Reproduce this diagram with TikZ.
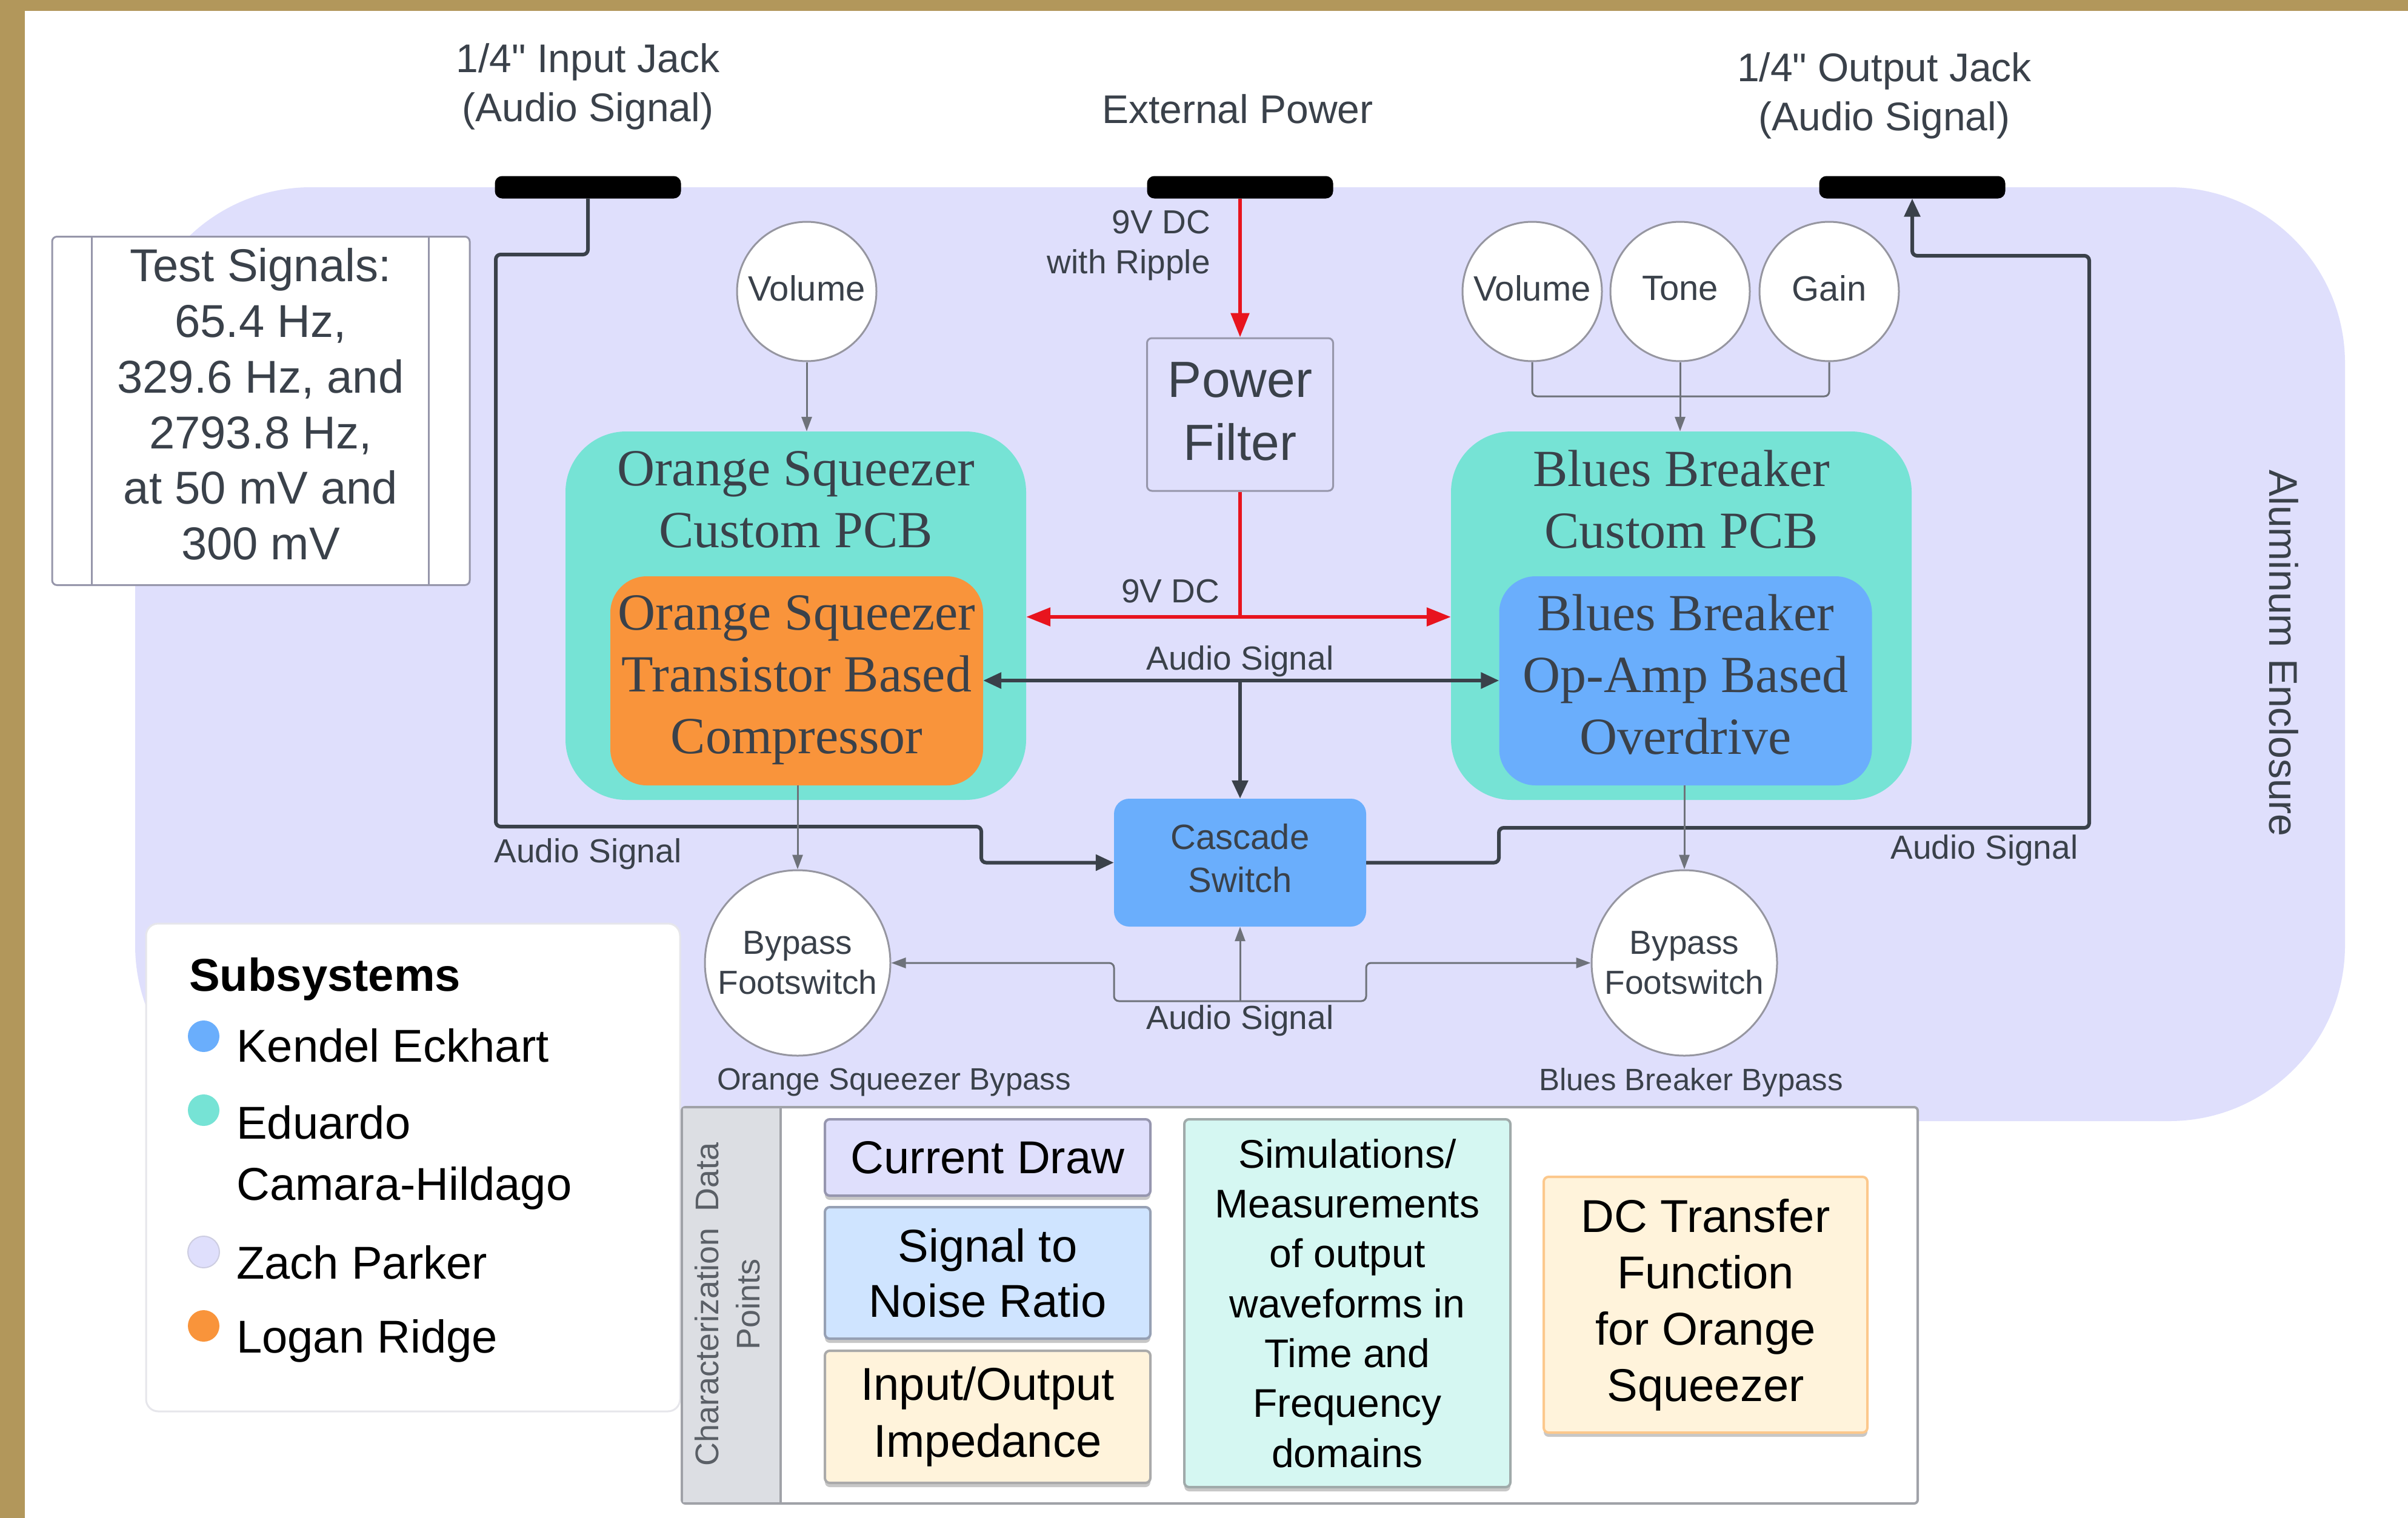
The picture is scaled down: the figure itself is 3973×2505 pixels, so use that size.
\documentclass[tikz,border=0pt]{standalone}
\usepackage{fontspec}
\setmainfont{Liberation Sans}[Ligatures=TeXOff]
\newfontfamily\serifF{Liberation Serif}[Ligatures=TeXOff]
\usetikzlibrary{arrows.meta,shadows}
\newcommand\FS[2]{\fontsize{#1pt}{#2pt}\selectfont}
\definecolor{gold}{RGB}{178,151,91}
\definecolor{encl}{RGB}{223,223,252}
\definecolor{pcbteal}{RGB}{118,227,213}
\definecolor{orng}{RGB}{249,148,59}
\definecolor{bblue}{RGB}{106,174,252}
\definecolor{txt}{RGB}{58,65,74}
\definecolor{wirec}{RGB}{58,65,74}
\definecolor{thinc}{RGB}{110,114,122}
\definecolor{pwr}{RGB}{232,20,30}
\definecolor{boxline}{RGB}{150,150,170}
\definecolor{knobline}{RGB}{150,150,160}
\definecolor{legline}{RGB}{230,230,235}
\definecolor{legdot}{RGB}{205,205,225}
\definecolor{snrfill}{RGB}{207,228,255}
\definecolor{cream}{RGB}{255,243,219}
\definecolor{mint}{RGB}{213,247,242}
\definecolor{cdline}{RGB}{150,150,175}
\definecolor{snrline}{RGB}{150,160,180}
\definecolor{ioline}{RGB}{170,170,170}
\definecolor{simline}{RGB}{160,170,170}
\definecolor{dcline}{RGB}{252,200,140}
\definecolor{hdrgray}{RGB}{220,222,227}
\definecolor{hdrtxt}{RGB}{90,95,102}
\definecolor{charline}{RGB}{160,162,168}
\tikzset{
  wtip/.tip={Triangle[length=30pt,width=26pt]},
  ttip/.tip={Triangle[length=24pt,width=17pt]},
  rtip/.tip={Triangle[length=40pt,width=30pt]},
  wire/.style={draw=wirec, line width=6pt},
  thinw/.style={draw=thinc, line width=3pt},
  pwrl/.style={draw=pwr, line width=6pt},
  jack/.style={fill=black, rounded corners=12pt, minimum width=307pt, minimum height=37pt, inner sep=0pt},
  jlbl/.style={font=\FS{66}{81}, align=center, text=txt, inner sep=0pt},
  lbl/.style={font=\FS{55}{66}, align=center, text=txt, inner sep=0pt},
  knob/.style={circle, draw=knobline, line width=3pt, fill=white, minimum size=230pt, inner sep=0pt},
  knobtxt/.style={font=\FS{58}{70}, text=txt, inner sep=0pt},
  byp/.style={circle, draw=knobline, line width=3pt, fill=white, minimum size=306pt, inner sep=0pt, font=\FS{55}{66}, align=center, text=txt},
  pcb/.style={fill=pcbteal, rounded corners=100pt, minimum width=760pt, minimum height=608pt, inner sep=0pt},
  ttl/.style={font=\serifF\FS{86}{102}, align=center, text=txt, inner sep=0pt},
  innerbox/.style={rounded corners=60pt, minimum width=615pt, minimum height=345pt, inner sep=0pt},
  dot/.style={circle, minimum size=52pt, inner sep=0pt},
  legt/.style={anchor=base west, font=\FS{76}{90}, text=black, inner sep=0pt},
  cshadow/.style={drop shadow={shadow xshift=0pt, shadow yshift=-7pt, opacity=0.22, fill=black}},
  cbox/.style={rounded corners=8pt, line width=4pt, inner sep=0pt, align=center, text=black, minimum width=537pt, cshadow},
}
\begin{document}
\begin{tikzpicture}[x=1pt,y=-1pt]
\useasboundingbox (0,0) rectangle (3973,2505);
\fill[white] (0,0) rectangle (3973,2505);
\fill[gold] (0,0) rectangle (41,2505);
\fill[gold] (0,0) rectangle (3973,18);
% enclosure
\fill[encl, rounded corners=290pt] (223,309) rectangle (3869,1850);
\node[rotate=-90, font=\FS{66}{80}, text=txt, inner sep=0pt] (encllbl) at (3768,1078) {Aluminum Enclosure};

% jacks and labels
\node[jack] (injack) at (970,309) {};
\node[jack] (pwrjack) at (2046,309) {};
\node[jack] (outjack) at (3155,309) {};
\node[jlbl] (inlbl) at (970,143) {1/4" Input Jack\\(Audio Signal)};
\node[jlbl] (pwrlbl) at (2042,180) {External Power};
\node[jlbl] (outlbl) at (3109,158) {1/4" Output Jack\\(Audio Signal)};

% test signals
\node[draw=boxline, line width=3pt, fill=white, rounded corners=8pt, minimum width=689pt, minimum height=575pt, inner sep=0pt] (testbox) at (430.5,678) {};
\draw[boxline, line width=3pt] ([xshift=67pt]testbox.north west) -- ([xshift=67pt]testbox.south west);
\draw[boxline, line width=3pt] ([xshift=-69pt]testbox.north east) -- ([xshift=-69pt]testbox.south east);
\node[font=\FS{76}{91.8}, align=center, text=txt, inner sep=0pt] (testtxt) at (430,667) {Test Signals:\\65.4 Hz,\\329.6 Hz, and\\2793.8 Hz,\\at 50 mV and\\300 mV};

% knobs
\node[knob] (ovol) at (1331,481) {};
\node[knob] (bvol) at (2528,481) {};
\node[knob] (btone) at (2772,481) {};
\node[knob] (bgain) at (3018,481) {};
\node[knobtxt] (ovolt) at (1331,476) {Volume};
\node[knobtxt] (bvolt) at (2528,476) {Volume};
\node[knobtxt] (btonet) at (2772,476) {Tone};
\node[knobtxt] (bgaint) at (3018,476) {Gain};

% PCBs
\node[pcb] (ospcb) at (1313,1016) {};
\node[pcb] (bbpcb) at (2774,1016) {};
\node[ttl] (ostitle) at (1313,824) {Orange Squeezer\\Custom PCB};
\node[ttl] (bbtitle) at (2774,824) {Blues Breaker\\Custom PCB};
\node[innerbox, fill=orng] (osin) at (1314.5,1123.5) {};
\node[innerbox, fill=bblue] (bbin) at (2781,1123.5) {};
\node[ttl] (ostxt) at (1314.5,1122) {Orange Squeezer\\Transistor Based\\Compressor};
\node[ttl] (bbtxt) at (2781,1113) {Blues Breaker\\Op-Amp Based\\Overdrive};

% power filter
\node[draw=boxline, line width=3pt, fill=encl, rounded corners=8pt, minimum width=307pt, minimum height=252pt, inner sep=0pt, font=\FS{84}{104}, align=center, text=txt] (pf) at (2046,684) {};
\node[font=\FS{84}{104}, align=center, text=txt, inner sep=0pt] (pftxt) at (2046,679) {Power\\Filter};

% cascade switch
\node[fill=bblue, rounded corners=25pt, minimum width=416pt, minimum height=211pt, inner sep=0pt] (cas) at (2046,1423.5) {};
\node[font=\FS{58}{71}, align=center, text=txt, inner sep=0pt] (castxt) at (2046,1416) {Cascade\\Switch};

% bypass footswitches
\node[byp] (lbyp) at (1316,1589) {Bypass\\Footswitch};
\node[byp] (rbyp) at (2779,1589) {Bypass\\Footswitch};

% power wiring
\draw[pwrl, -{rtip}] (pwrjack.south) -- (pf.north);
\node[lbl, anchor=east, align=right] (ripple) at (1997,405) {9V DC\\with Ripple};
\coordinate (split) at (2046,1018);
\draw[pwrl] (pf.south) -- (split);
\draw[pwrl, -{rtip}] (split) -- (split -| ospcb.east);
\draw[pwrl, -{rtip}] (split) -- (split -| bbpcb.west);
\node[lbl] (v9) at (1931,976) {9V DC};

% audio between effects
\coordinate (aj) at (2046,1123);
\draw[wire, {wtip}-{wtip}] (aj -| osin.east) -- (aj -| bbin.west);
\draw[wire, -{wtip}] (aj) -- (cas.north);
\node[lbl] (aslbl1) at (2046,1091) {Audio Signal};

% input / output
\draw[wire, rounded corners=8pt, -{wtip}] (injack.south) -- (970,420) -- (818,420) -- (818,1364) -- (1619,1364) -- (1619,1423.5) -- (cas.west);
\draw[wire, rounded corners=8pt, -{wtip}] (cas.east) -- (2473,1423.5) -- (2473,1366) -- (3447,1366) -- (3447,422) -- (3155,422) -- (outjack.south);
\node[lbl] (aslbl2) at (970,1409) {Audio Signal};
\node[lbl] (aslbl3) at (3274,1403) {Audio Signal};

% knob connectors
\draw[thinw, -{ttip}] (ovol.south) -- (ovol.south |- ospcb.north);
\coordinate (kb) at (2772,654);
\draw[thinw, rounded corners=8pt] (bvol.south) |- (kb) -| (bgain.south);
\draw[thinw, -{ttip}] (btone.south) -- (btone.south |- bbpcb.north);

% bypass connectors
\draw[thinw, -{ttip}] (lbyp.north |- osin.south) -- (lbyp.north);
\draw[thinw, -{ttip}] (rbyp.north |- bbin.south) -- (rbyp.north);
\coordinate (bj) at (2046,1652);
\draw[thinw, -{ttip}] (bj) -- (cas.south);
\draw[thinw, rounded corners=8pt, -{ttip}] (bj) -- (1838,1652) -- (1838,1589) -- (lbyp.east);
\draw[thinw, rounded corners=8pt, -{ttip}] (bj) -- (2254,1652) -- (2254,1589) -- (rbyp.west);
\node[lbl] (aslbl4) at (2046,1684) {Audio Signal};
\node[lbl, font=\FS{51}{62}] (oslbl) at (1475,1786) {Orange Squeezer Bypass};
\node[lbl, font=\FS{51}{62}] (bblbl) at (2790,1786) {Blues Breaker Bypass};

% legend
\node[draw=legline, line width=3pt, fill=white, rounded corners=20pt, minimum width=881pt, minimum height=805pt, inner sep=0pt] (legend) at (681.5,1926.5) {};
\node[anchor=base west, font=\bfseries\FS{76}{90}, text=black, inner sep=0pt] (legttl) at (312,1635) {Subsystems};
\node[dot, fill=bblue] (d1) at (336,1710) {};
\node[dot, fill=pcbteal] (d2) at (336,1832) {};
\node[dot, fill=encl, draw=legdot, line width=2pt] (d3) at (336,2066) {};
\node[dot, fill=orng] (d4) at (336,2188) {};
\node[legt] (l1) at (390,1752) {Kendel Eckhart};
\node[legt] (l2) at (390,1879) {Eduardo};
\node[legt] (l2b) at (390,1980) {Camara-Hildago};
\node[legt] (l3) at (390,2110) {Zach Parker};
\node[legt] (l4) at (390,2232) {Logan Ridge};

% characterization
\node[draw=charline, line width=4pt, fill=white, rounded corners=6pt, minimum width=2039pt, minimum height=654pt, inner sep=0pt] (charbox) at (2144.5,2154) {};
\fill[hdrgray] (1127,1829) rectangle (1288,2479);
\draw[charline, line width=4pt] (1288,1827) -- (1288,2481);
\node[rotate=90, font=\FS{54}{68}, align=center, text=hdrtxt, inner sep=0pt] (chhdr) at (1200,2152) {Characterization\hspace{12pt} Data\\Points};
\node[cbox, fill=encl, draw=cdline, minimum height=126pt, font=\FS{76}{91}] (cd) at (1629.5,1910) {Current Draw};
\node[cbox, fill=snrfill, draw=snrline, minimum height=217pt, font=\FS{76}{91}] (snr) at (1629.5,2100.5) {Signal to\\Noise Ratio};
\node[cbox, fill=cream, draw=ioline, minimum height=218pt, font=\FS{76}{94}] (io) at (1629.5,2338) {Input/Output\\Impedance};
\node[cbox, fill=mint, draw=simline, minimum width=538pt, minimum height=607pt, font=\FS{66}{82.3}] (sim) at (2223,2150.5) {Simulations/\\Measurements\\of output\\waveforms in\\Time and\\Frequency\\domains};
\node[cbox, fill=cream, draw=dcline, minimum width=534pt, minimum height=422pt, font=\FS{76}{93}] (dc) at (2814,2153) {DC Transfer\\Function\\for Orange\\Squeezer};
\end{tikzpicture}
\end{document}
